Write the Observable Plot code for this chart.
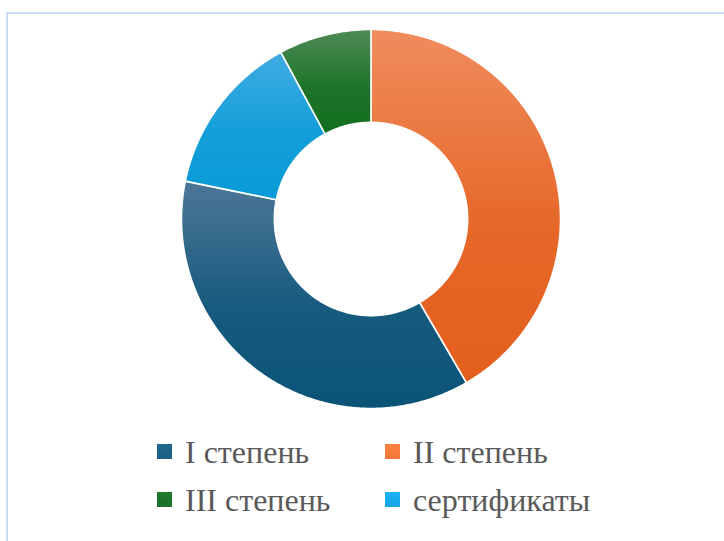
<!DOCTYPE html>
<html><head><meta charset="utf-8">
<script src="https://cdn.jsdelivr.net/npm/d3@7"></script>
<script src="https://cdn.jsdelivr.net/npm/@observablehq/plot@0.6"></script>
<style>
html,body{margin:0;padding:0;background:#fff;}
#wrap{position:relative;width:724px;height:541px;overflow:hidden;}
#frame{position:absolute;left:6px;top:12px;width:740px;height:560px;border:2px solid #CBDCF2;box-sizing:border-box;}
#chart{position:absolute;left:0;top:0;}
.leg{position:absolute;font-family:"Liberation Serif","Times New Roman",serif;font-size:32px;color:#595959;white-space:nowrap;line-height:1;}
.sw{position:absolute;width:15px;height:15px;}
</style></head>
<body><div id="wrap"><div id="frame"></div><div id="chart"></div><div id="legend"></div></div>
<script>
// Data (percent shares)
const categories = ["I степень", "II степень", "III степень", "сертификаты"];
const values = [36.6, 41.6, 7.9, 13.9];
// clockwise drawing order starting at 12 o'clock
const pieOrder = ["II степень", "I степень", "сертификаты", "III степень"];
const gradTop = {"I степень": "#4D7697", "II степень": "#F08C5E", "III степень": "#508B57", "сертификаты": "#40ACE2"};
const gradBottom = {"I степень": "#0A5478", "II степень": "#E45F1C", "III степень": "#116E1E", "сертификаты": "#089BD7"};
const swatch = {"I степень": "#1D5E82", "II степень": "#F07638", "III степень": "#1B6E28", "сертификаты": "#16A2DF"};

const W = 724, H = 430, cx = 370.5, cy = 218.5, R = 189.5, innerRatio = 0.51;

const table = categories.map((c, i) => ({name: c, value: values[i]}));
const pie = d3.pie().value(d => d.value)
  .sort((a, b) => pieOrder.indexOf(a.name) - pieOrder.indexOf(b.name));
const arcs = pie(table);

// polygon outline for each slice, in unit-radius coordinates
const pts = [];
for (const a of arcs) {
  const n = Math.max(8, Math.ceil((a.endAngle - a.startAngle) / (Math.PI / 360)));
  for (let k = 0; k <= n; k++) {
    const t = a.startAngle + (a.endAngle - a.startAngle) * k / n;
    pts.push({name: a.data.name, x: Math.sin(t), y: Math.cos(t)});
  }
  for (let k = n; k >= 0; k--) {
    const t = a.startAngle + (a.endAngle - a.startAngle) * k / n;
    pts.push({name: a.data.name, x: innerRatio * Math.sin(t), y: innerRatio * Math.cos(t)});
  }
}
const gid = name => "g" + categories.indexOf(name);

const plot = Plot.plot({
  width: W, height: H,
  margin: 0,
  x: {domain: [-cx / R, (W - cx) / R], axis: null},
  y: {domain: [-(H - cy) / R, cy / R], axis: null},
  marks: categories.map(c => Plot.line(pts.filter(p => p.name === c), {
    x: "x", y: "y", curve: "linear-closed",
    fill: `url(#${gid(c)})`, stroke: "white", strokeWidth: 1.6
  }))
});
const ns = "http://www.w3.org/2000/svg";
const defs = document.createElementNS(ns, "defs");
for (const c of categories) {
  const lg = document.createElementNS(ns, "linearGradient");
  lg.setAttribute("id", gid(c));
  lg.setAttribute("x1", "0"); lg.setAttribute("y1", "0");
  lg.setAttribute("x2", "0"); lg.setAttribute("y2", "1");
  [[0, gradTop[c]], [0.55, d3.interpolateRgb(gradTop[c], gradBottom[c])(0.8)], [1, gradBottom[c]]].forEach(([o, col]) => {
    const s = document.createElementNS(ns, "stop");
    s.setAttribute("offset", o); s.setAttribute("stop-color", col);
    lg.appendChild(s);
  });
  defs.appendChild(lg);
}
plot.insertBefore(defs, plot.firstChild);
document.getElementById("chart").appendChild(plot);

// legend (2 x 2)
const legPos = [[157, 444], [385, 444], [157, 492], [385, 492]];
const leg = document.getElementById("legend");
categories.forEach((c, i) => {
  const [lx, ly] = legPos[i];
  const sw = document.createElement("div");
  sw.className = "sw";
  sw.style.left = lx + "px"; sw.style.top = ly + "px";
  sw.style.background = `linear-gradient(${d3.color(swatch[c]).brighter(0.3)}, ${swatch[c]})`;
  leg.appendChild(sw);
  const t = document.createElementNS ? document.createElement("div") : null;
  t.className = "leg";
  t.textContent = c;
  t.style.left = (lx + 28) + "px"; t.style.top = (ly - 8) + "px";
  leg.appendChild(t);
});
</script></body></html>
